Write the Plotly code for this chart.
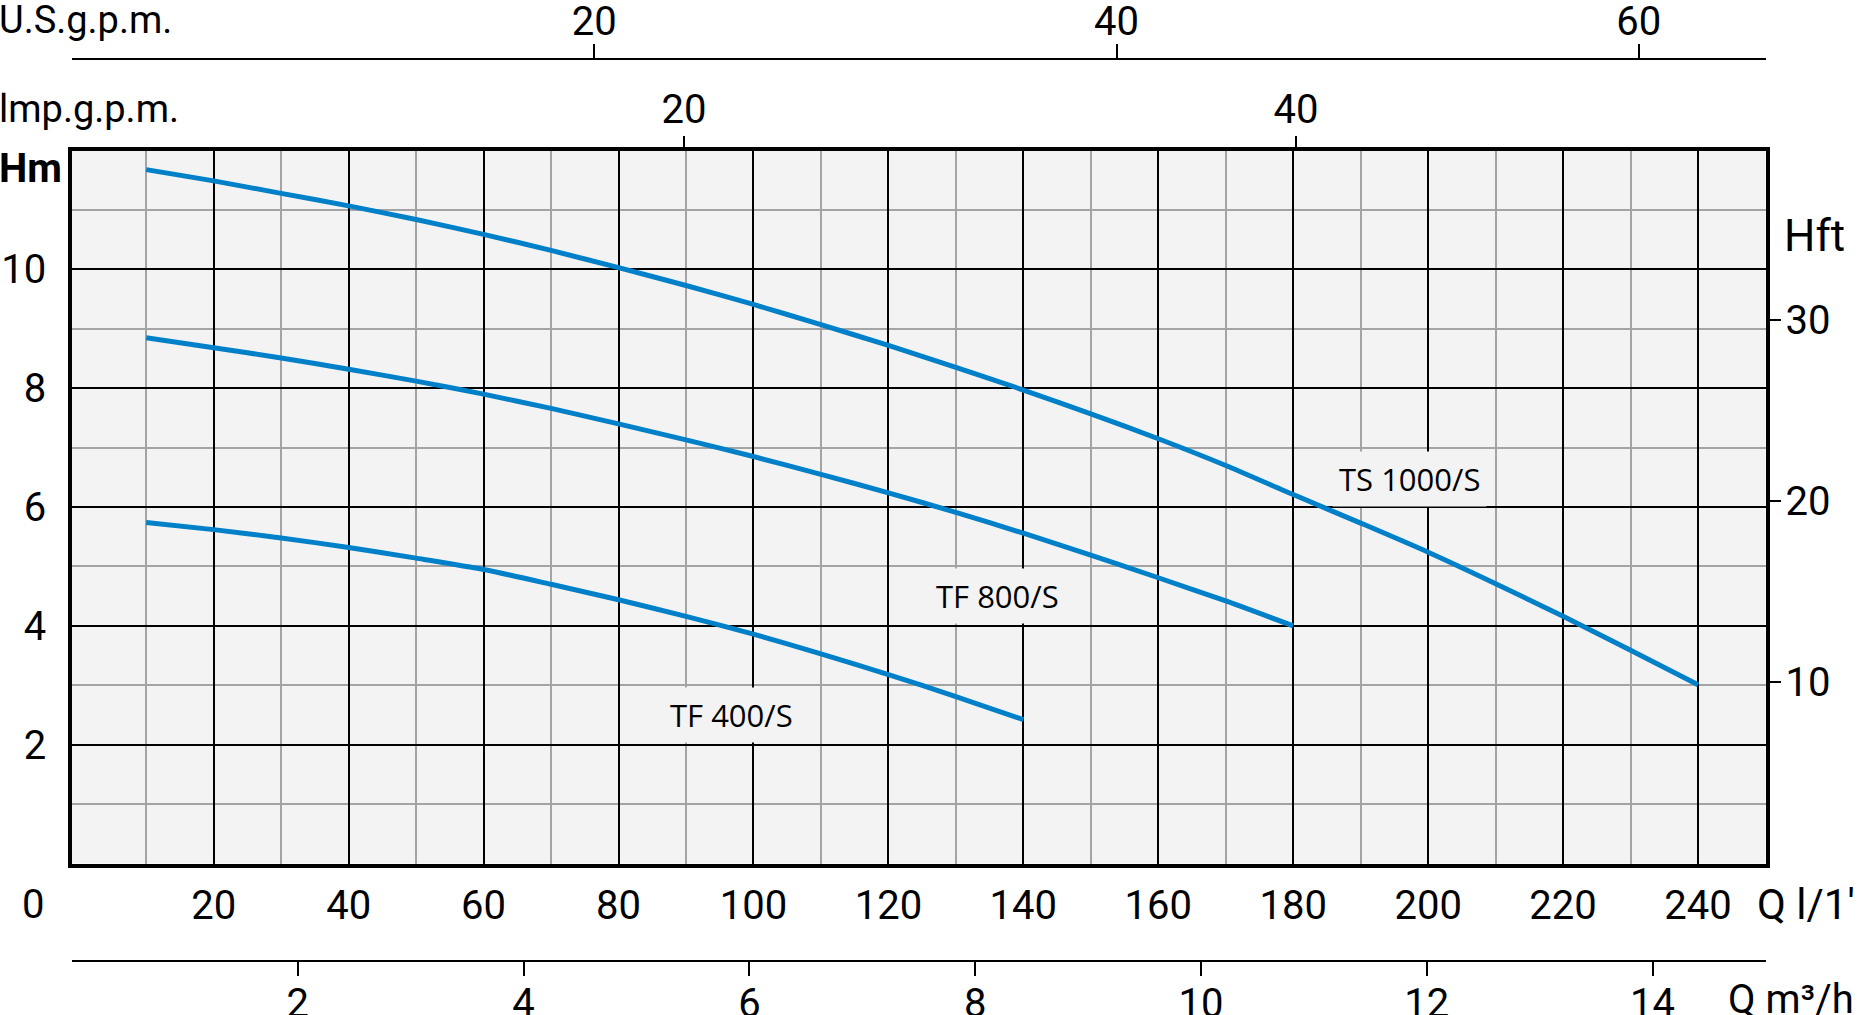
import plotly.graph_objects as go

# ---------------- data ----------------
q_ts1000 = [10, 20, 30, 40, 50, 60, 70, 80, 90, 100, 110, 120, 130, 140, 150, 160,
            170, 180, 190, 200, 210, 220, 230, 240]
h_ts1000 = [11.68, 11.49, 11.28, 11.07, 10.84, 10.59, 10.32, 10.03, 9.73, 9.41, 9.07,
            8.72, 8.35, 7.97, 7.57, 7.15, 6.70, 6.21, 5.73, 5.24, 4.71, 4.16, 3.59, 3.01]

q_tf800 = [10, 20, 30, 40, 50, 60, 70, 80, 90, 100, 110, 120, 130, 140, 150, 160, 170, 180]
h_tf800 = [8.85, 8.68, 8.51, 8.32, 8.12, 7.90, 7.66, 7.40, 7.13, 6.85, 6.55, 6.24,
           5.91, 5.56, 5.19, 4.81, 4.42, 4.00]

q_tf400 = [10, 20, 30, 40, 50, 60, 70, 80, 90, 100, 110, 120, 130, 140]
h_tf400 = [5.74, 5.62, 5.48, 5.32, 5.14, 4.95, 4.70, 4.44, 4.16, 3.86, 3.53, 3.18, 2.81, 2.42]

series_names = ["TS 1000/S", "TF 800/S", "TF 400/S"]
label_q = [197.2, 136.2, 96.8]
label_h = [6.48, 4.50, 2.50]

q_lmin_ticks = [20, 40, 60, 80, 100, 120, 140, 160, 180, 200, 220, 240]
q_lmin_minor = [10, 30, 50, 70, 90, 110, 130, 150, 170, 190, 210, 230]
hm_ticks = [2, 4, 6, 8, 10]
hm_minor = [1, 3, 5, 7, 9, 11]
hft_ticks = [10, 20, 30]
usgpm_ticks = [20, 40, 60]
impgpm_ticks = [20, 40]
m3h_ticks = [2, 4, 6, 8, 10, 12, 14]

# axis spans (as drawn on the reference scales)
Q_RANGE = [-1, 250]          # l/min
H_RANGE = [0, 12]            # m
HFT_RANGE = [0, 12 * 3.28084]  # ft
USGPM_RANGE = [0, 64.85]
IMPGPM_RANGE = [0, 55.34]
M3H_RANGE = [0, 15.0]

# ---------------- styling ----------------
W, H = 1860, 1015
NUM_FONT = "Roboto, Liberation Sans, sans-serif"
LBL_FONT = "Open Sans, Noto Sans, sans-serif"
BLUE = "#0080c8"
BG = "#f3f3f3"
MINOR = "#a4a4a4"
TICK_SIZE = 40

x_dom = [72 / W, 1765.5 / W]
y_dom = [(H - 863.5) / H, (H - 150.6) / H]
us_pos = (H - 59) / H
m3_pos = (H - 961) / H

tickfont = dict(family=NUM_FONT, size=TICK_SIZE, color="black")

fig = go.Figure()
for q, h, name in zip([q_ts1000, q_tf800, q_tf400], [h_ts1000, h_tf800, h_tf400], series_names):
    fig.add_trace(go.Scatter(x=q, y=h, mode="lines", name=name,
                             line=dict(color=BLUE, width=5, shape="spline", smoothing=0.6),
                             hoverinfo="skip"))

# placeholder traces (no visible points) so that the secondary unit axes are drawn
for xa, ya, vals in [("x2", "y", usgpm_ticks), ("x3", "y", impgpm_ticks),
                     ("x4", "y", m3h_ticks), ("x", "y2", hft_ticks)]:
    if ya == "y2":
        fig.add_trace(go.Scatter(x=[None] * len(vals), y=vals, xaxis=xa, yaxis=ya,
                                 mode="markers", showlegend=False, hoverinfo="skip"))
    else:
        fig.add_trace(go.Scatter(x=vals, y=[None] * len(vals), xaxis=xa, yaxis=ya,
                                 mode="markers", showlegend=False, hoverinfo="skip"))

for name, qx, hy in zip(series_names, label_q, label_h):
    fig.add_annotation(x=qx, y=hy, xref="x", yref="y", text=name, showarrow=False,
                       font=dict(family=LBL_FONT, size=31, color="black"),
                       bgcolor=BG, borderpad=6)

fig.update_layout(
    width=W, height=H, autosize=False,
    margin=dict(l=0, r=0, t=0, b=0),
    paper_bgcolor="white", plot_bgcolor=BG,
    showlegend=False, hovermode=False,
    xaxis=dict(domain=x_dom, range=Q_RANGE, anchor="y",
               tickmode="array", tickvals=q_lmin_ticks, ticktext=[str(v) for v in q_lmin_ticks],
               showgrid=True, gridcolor="black", gridwidth=1.5,
               minor=dict(tickmode="array", tickvals=q_lmin_minor, showgrid=True,
                          gridcolor=MINOR, gridwidth=1.5, ticks=""),
               zeroline=False, showline=True, linecolor="black", linewidth=3.5, mirror=True,
               ticks="", ticklabelstandoff=4, tickfont=tickfont, automargin=False),
    yaxis=dict(domain=y_dom, range=H_RANGE, anchor="x",
               tickmode="array", tickvals=hm_ticks, ticktext=[str(v) for v in hm_ticks],
               showgrid=True, gridcolor="black", gridwidth=1.5,
               minor=dict(tickmode="array", tickvals=hm_minor, showgrid=True,
                          gridcolor=MINOR, gridwidth=1.5, ticks=""),
               zeroline=False, showline=True, linecolor="black", linewidth=3.5, mirror=True,
               ticks="", ticklabelstandoff=14, tickfont=tickfont, automargin=False),
    yaxis2=dict(overlaying="y", side="right", anchor="x", range=HFT_RANGE,
                tickmode="array", tickvals=hft_ticks, ticktext=[str(v) for v in hft_ticks],
                showgrid=False, zeroline=False, showline=False,
                ticks="outside", ticklen=14, tickwidth=2, tickcolor="black",
                ticklabelstandoff=-3, tickfont=tickfont, automargin=False),
    xaxis2=dict(overlaying="x", anchor="free", position=us_pos, side="top", range=USGPM_RANGE,
                tickmode="array", tickvals=usgpm_ticks, ticktext=[str(v) for v in usgpm_ticks],
                showgrid=False, zeroline=False, showline=True, linecolor="black", linewidth=2,
                ticks="outside", ticklen=14, tickwidth=1.5, tickcolor="black",
                ticklabelstandoff=-7, tickfont=tickfont, automargin=False),
    xaxis3=dict(overlaying="x", anchor="y", side="top", range=IMPGPM_RANGE,
                tickmode="array", tickvals=impgpm_ticks, ticktext=[str(v) for v in impgpm_ticks],
                showgrid=False, zeroline=False, showline=False,
                ticks="outside", ticklen=14, tickwidth=1.5, tickcolor="black",
                ticklabelstandoff=-3, tickfont=tickfont, automargin=False),
    xaxis4=dict(overlaying="x", anchor="free", position=m3_pos, side="bottom", range=M3H_RANGE,
                tickmode="array", tickvals=m3h_ticks, ticktext=[str(v) for v in m3h_ticks],
                showgrid=False, zeroline=False, showline=True, linecolor="black", linewidth=2,
                ticks="outside", ticklen=14, tickwidth=1.5, tickcolor="black",
                ticklabelstandoff=-7, tickfont=tickfont, automargin=False),
)

def txt(text, x_px, y_px, xanchor="left", size=TICK_SIZE, bold=False):
    t = f"<b>{text}</b>" if bold else text
    fig.add_annotation(x=x_px / W, y=1 - y_px / H, xref="paper", yref="paper",
                       text=t, showarrow=False, xanchor=xanchor, yanchor="middle",
                       font=dict(family=NUM_FONT, size=size, color="black"))

txt("U.S.g.p.m.", -3, 20, size=38)
txt("lmp.g.p.m.", -3, 109, size=38)
txt("Hm", -3, 168, size=40, bold=True)
txt("Hft", 1782, 236, size=44)
txt("0", 46, 904, xanchor="right")
txt("Q l/1'", 1755, 904, size=42)
txt("Q m³/h", 1726, 999)

fig.write_html("out.html", config={"displayModeBar": False},
               post_script="document.body.style.margin='0';document.body.style.overflow='hidden';")
